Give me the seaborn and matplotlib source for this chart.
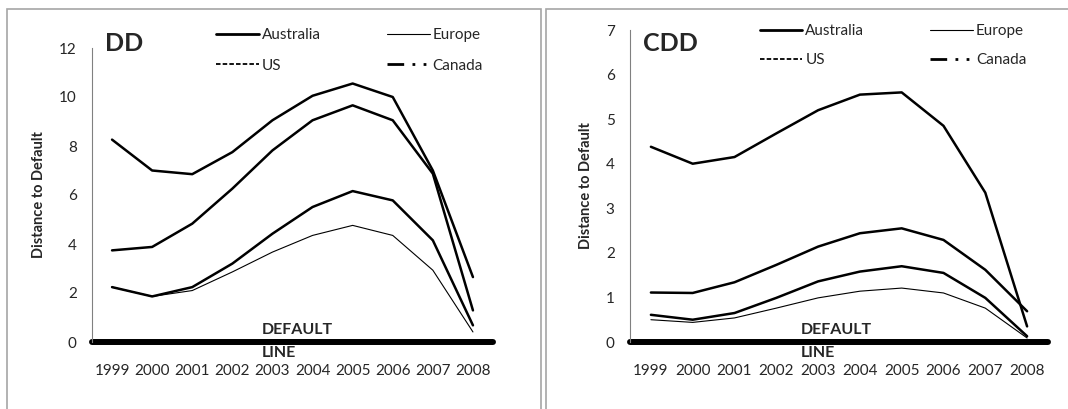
import matplotlib
matplotlib.use('Agg')
import matplotlib.pyplot as plt
from matplotlib.lines import Line2D
from matplotlib.patches import Rectangle
import seaborn as sns

# Dados
anos = [1999, 2000, 2001, 2002, 2003, 2004, 2005, 2006, 2007, 2008]

dd_canada = [8.26, 7.0, 6.85, 7.75, 9.05, 10.05, 10.55, 10.0, 7.0, 2.65]
dd_australia = [3.74, 3.88, 4.83, 6.26, 7.82, 9.05, 9.66, 9.05, 6.87, 1.29]
dd_us = [2.24, 1.86, 2.24, 3.2, 4.42, 5.51, 6.16, 5.78, 4.15, 0.68]
dd_europe = [2.24, 1.86, 2.1, 2.86, 3.67, 4.35, 4.76, 4.35, 2.93, 0.41]

cdd_canada = [4.38, 4.0, 4.15, 4.68, 5.2, 5.55, 5.6, 4.85, 3.35, 0.35]
cdd_australia = [1.11, 1.1, 1.34, 1.73, 2.14, 2.44, 2.55, 2.29, 1.62, 0.69]
cdd_us = [0.61, 0.5, 0.65, 0.99, 1.36, 1.58, 1.7, 1.55, 0.99, 0.13]
cdd_europe = [0.5, 0.44, 0.54, 0.76, 0.99, 1.14, 1.21, 1.1, 0.76, 0.09]

y_ticks_dd = [0, 2, 4, 6, 8, 10, 12]
y_ticks_cdd = [0, 1, 2, 3, 4, 5, 6, 7]

sns.set_style('white')
plt.rcParams['font.family'] = ['Lato', 'DejaVu Sans']

fig = plt.figure(figsize=(10.68, 4.09), dpi=100)

# Bordas dos paineis
fig.patches.append(Rectangle((7 / 1068, -0.1), (541 - 7) / 1068, 1.1 - 9 / 409,
                             transform=fig.transFigure, fill=False,
                             edgecolor='#a6a6a6', lw=1.2))
fig.patches.append(Rectangle((546 / 1068, -0.1), 0.6, 1.1 - 9 / 409,
                             transform=fig.transFigure, fill=False,
                             edgecolor='#a6a6a6', lw=1.2))

ax1 = fig.add_axes([92 / 1068, 1 - 342 / 409, 401 / 1068, 294 / 409])
ax2 = fig.add_axes([630 / 1068, 1 - 342 / 409, 418 / 1068, 312 / 409])


def desenha(ax, series, ymax, yticks, titulo, leg_pos, tit_pos, txt_x, txt_y, lab_spacing):
    for vals, lw in series:
        sns.lineplot(x=anos, y=vals, ax=ax, color='black', lw=lw)
    ax.set_xlim(1998.5, 2008.5)
    ax.set_ylim(0, ymax)
    ax.set_xticks(anos)
    ax.set_yticks(yticks)
    ax.tick_params(axis='x', pad=16, length=0, labelsize=11)
    ax.tick_params(axis='y', pad=11, length=0, labelsize=11)
    for s in ['top', 'right', 'bottom']:
        ax.spines[s].set_visible(False)
    ax.spines['left'].set_color('#808080')
    ax.spines['left'].set_linewidth(0.8)
    # linha de default
    ax.axhline(0, color='black', lw=4.3, clip_on=False)
    ax.text(txt_x[0], txt_y[0], 'DEFAULT', fontsize=11.5, fontweight='bold', va='center', ha='left')
    ax.text(txt_x[1], txt_y[1], 'LINE', fontsize=11.5, fontweight='bold', va='center', ha='left')
    ax.set_ylabel('Distance to Default', fontsize=10.5, fontweight='bold', labelpad=9)
    ax.text(tit_pos[0], tit_pos[1], titulo, transform=ax.transAxes, fontsize=18,
            fontweight='bold', va='center', ha='left')
    handles = [
        Line2D([], [], color='black', lw=2),
        Line2D([], [], color='black', ls=(0, (2.5, 1.2)), lw=1.3),
        Line2D([], [], color='black', lw=0.8),
        Line2D([], [], color='black', ls=(0, (6, 3, 1, 3, 1, 3)), lw=2),
    ]
    labels = ['Australia', 'US', 'Europe', 'Canada']
    ax.legend(handles, labels, ncol=2, loc='upper left', bbox_to_anchor=leg_pos,
              frameon=False, fontsize=11, handlelength=2.8, handletextpad=0.2,
              columnspacing=4.3, labelspacing=lab_spacing, borderpad=0, borderaxespad=0)


desenha(ax1, [(dd_canada, 1.8), (dd_australia, 1.8), (dd_us, 1.8), (dd_europe, 0.8)],
        12, y_ticks_dd, 'DD', (0.31, 1.068), (0.032, 1.017),
        (2002.73, 2002.73), (0.48, -0.44), 1.1)
desenha(ax2, [(cdd_canada, 1.8), (cdd_australia, 1.8), (cdd_us, 1.8), (cdd_europe, 0.8)],
        7, y_ticks_cdd, 'CDD', (0.31, 1.018), (0.031, 0.958),
        (2002.58, 2002.58), (0.28, -0.25), 0.95)

fig.savefig('out.png', dpi=100)
